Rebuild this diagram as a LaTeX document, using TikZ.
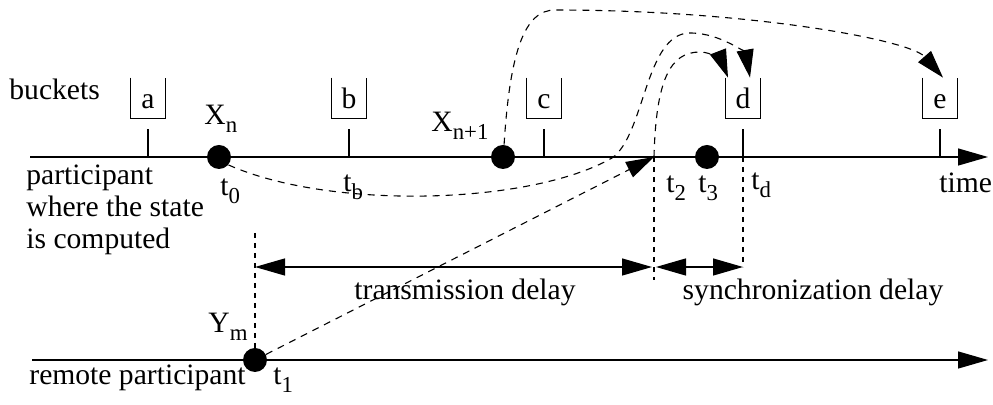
\documentclass[tikz,border=0pt]{standalone}
\usepackage{fontspec}
\setmainfont{Liberation Serif}
\usetikzlibrary{arrows.meta}
\newcommand\lsub[1]{\raisebox{-3.6pt}{\fontsize{11.4}{11.4}\selectfont #1}}
\begin{document}
\begin{tikzpicture}[x=0.5pt,y=-0.5pt,
  every node/.style={font=\fontsize{14.8}{16}\selectfont, inner sep=0pt},
  axis/.style={line width=0.65pt, -{Triangle[length=15pt,width=8.5pt]}},
  dim/.style={line width=0.65pt, {Triangle[length=15pt,width=8.5pt]}-{Triangle[length=15pt,width=8.5pt]}},
  dcurve/.style={line width=0.55pt, dash pattern=on 3.5pt off 3pt, -{Triangle[length=14pt,width=8.5pt]}},
  vdash/.style={line width=0.55pt, dash pattern=on 2.5pt off 2.5pt},
  dot/.style={circle, fill, minimum size=12pt, inner sep=0pt},
  bucketbox/.style={minimum width=17pt, minimum height=20pt, text height=11pt, text depth=0pt, inner sep=0pt},
  bucketline/.style={line width=0.65pt},
  lbl/.style={anchor=base west},
]
\useasboundingbox (0,0) rectangle (993,405);

% axes
\coordinate (mL) at (30,157);
\coordinate (mR) at (988,157);
\coordinate (rL) at (32,360);
\coordinate (rR) at (988,360);
\draw[axis] (mL) -- (mR);
\draw[axis] (rL) -- (rR);

% buckets
\node[bucketbox] (ba) at (148,98) {a};
\node[bucketbox] (bb) at (349,98) {b};
\node[bucketbox] (bc) at (544,98) {c};
\node[bucketbox] (bd) at (743,98) {d};
\node[bucketbox] (be) at (940,98) {e};
\foreach \b in {ba,bb,bc,bd,be}{
  \draw[bucketline] (\b.north west) |- (\b.south east) -- (\b.north east);
  \draw[bucketline] ([yshift=-5.5pt]\b.south) -- (\b.south |- mL);
}

% dots
\node[dot] (xn) at (219,157) {};
\node[dot] (xn1) at (503,157) {};
\node[dot] (x3) at (707,157) {};
\node[dot] (ym) at (255,360) {};
\coordinate (t2) at (654,157);

% texts
\node[lbl] (tbuckets) at (9,100) {buckets};
\node[lbl] (tp1) at (26,185) {participant};
\node[lbl] (tp2) at (26,217) {where the state};
\node[lbl] (tp3) at (26,249) {is computed};
\node[lbl] (tremote) at (29,385) {remote participant};
\node[lbl] (ttime) at (939,193) {time};
\node[lbl] (lxn) at (204,125) {X\lsub{n}};
\node[lbl] (lxn1) at (431,132) {X\lsub{n+1}};
\node[lbl] (lym) at (208,333) {Y\lsub{m}};
\node[lbl] (lt0) at (220,196) {t\lsub{0}};
\node[lbl] (ltb) at (343,192) {t\lsub{b}};
\node[lbl] (lt2) at (666,193) {t\lsub{2}};
\node[lbl] (lt3) at (698,193) {t\lsub{3}};
\node[lbl] (ltd) at (751,190) {t\lsub{d}};
\node[lbl] (lt1) at (273,385) {t\lsub{1}};
\node[anchor=base] (ltrans) at (465,300) {transmission delay};
\node[anchor=base] (lsync) at (813,300) {synchronization delay};

% vertical dashed guides
\coordinate (v1top) at (255,233);
\coordinate (v2bot) at (654,280);
\coordinate (v3bot) at (743,267);
\draw[vdash] (v1top) -- (ym);
\draw[vdash] (t2) -- (v2bot);
\draw[vdash] (bd.south |- mL) -- (v3bot);

% delay arrows
\coordinate (dA) at (255,267);
\coordinate (dB) at (652,267);
\coordinate (dC) at (656,267);
\coordinate (dD) at (743,267);
\draw[dim] (dA) -- (dB);
\draw[dim] (dC) -- (dD);

% message curves
\draw[dcurve] (ym) -- (t2);
\draw[dcurve] (xn.-40) .. controls (330,210) and (530,205) .. (612,158)
  .. controls (645,135) and (645,33) .. (690,33)
  .. controls (722,33) and (746,55) .. ([xshift=3.5pt]bd.north);
\draw[dcurve] (t2) .. controls (656,80) and (670,52) .. (700,52)
  .. controls (712,52) and (722,62) .. ([xshift=-7.5pt]bd.north);
\draw[dcurve] (xn1.85) .. controls (510,50) and (525,10) .. (555,10)
  .. controls (750,10) and (910,40) .. ([xshift=1.5pt]be.north);
\end{tikzpicture}
\end{document}
